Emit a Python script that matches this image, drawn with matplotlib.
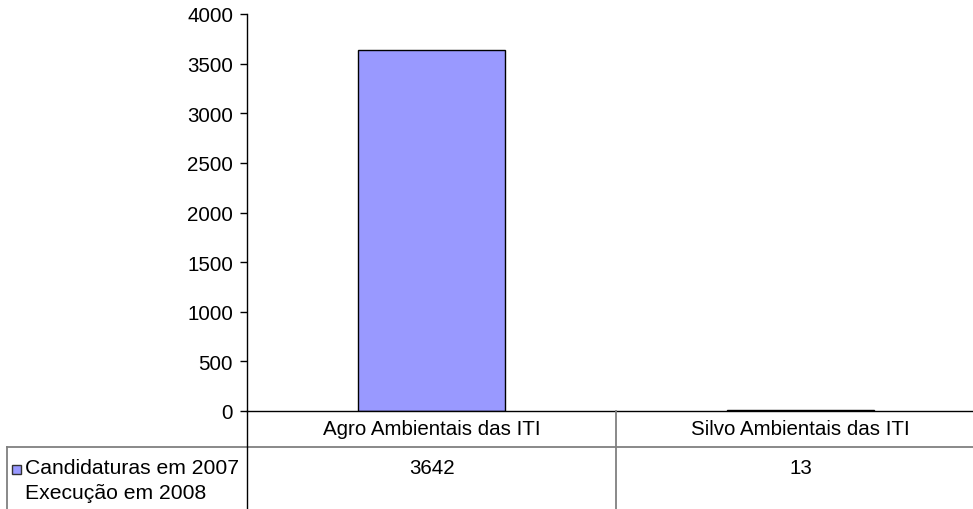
import matplotlib
matplotlib.use("Agg")
import matplotlib.pyplot as plt
from matplotlib.lines import Line2D
from matplotlib.patches import Rectangle

categories = ["Agro Ambientais das ITI", "Silvo Ambientais das ITI"]
values = [3642, 13]
series_label = ["Candidaturas em 2007", "Execução em 2008"]
yticks = [0, 500, 1000, 1500, 2000, 2500, 3000, 3500, 4000]

plt.rcParams['font.family'] = ['Liberation Sans', 'DejaVu Sans']
FS = 14.8

W, H = 973, 510
fig = plt.figure(figsize=(W / 100, H / 100), dpi=100)

# pixel geometry of the plot area (right edge runs past the figure)
x0, x1 = 247, 985
ytop, ybot = 15, 412
ax = fig.add_axes([x0 / W, 1 - ybot / H, (x1 - x0) / W, (ybot - ytop) / H])

xs = [i + 0.5 for i in range(len(categories))]
ax.bar(xs, values, width=0.4, color="#9999FF", edgecolor="black", linewidth=1)
ax.set_xlim(0, len(categories))
ax.set_ylim(0, 4000)
ax.set_yticks(yticks)
ax.set_yticklabels([str(t) for t in yticks], fontsize=FS)
ax.tick_params(axis="y", direction="out", length=5, width=1, pad=5)
ax.set_xticks([])
for s in ["top", "right"]:
    ax.spines[s].set_visible(False)
ax.spines["left"].set_linewidth(1)
ax.spines["bottom"].set_linewidth(1)

# data table under the chart
grey = "#808080"
row_line = 448
left_edge = 7
col_w = (x1 - x0) / len(categories)

def fx(px):
    return px / W

def fy(py):
    return 1 - py / H

fig.add_artist(Line2D([fx(left_edge), fx(x1)], [fy(row_line), fy(row_line)], color=grey, lw=1.3))
fig.add_artist(Line2D([fx(left_edge), fx(left_edge)], [fy(row_line), fy(H + 5)], color=grey, lw=1.3))
fig.add_artist(Line2D([fx(x0), fx(x0)], [fy(ybot), fy(H + 5)], color="black", lw=1))
for i in range(1, len(categories)):
    xc = x0 + i * col_w
    fig.add_artist(Line2D([fx(xc), fx(xc)], [fy(ybot), fy(H + 5)], color=grey, lw=1.3))

for i, (cat, val) in enumerate(zip(categories, values)):
    xc = x0 + (i + 0.5) * col_w
    fig.text(fx(xc), fy(430), cat, ha="center", va="center", fontsize=FS)
    fig.text(fx(xc), fy(469), str(val), ha="center", va="center", fontsize=FS)

# legend key and series name in the row header
fig.add_artist(Rectangle((fx(12), fy(475)), 9 / W, 9 / H, facecolor="#9999FF",
                         edgecolor="#333333", lw=1))
fig.text(fx(25), fy(469), series_label[0], ha="left", va="center", fontsize=15.2)
fig.text(fx(25), fy(494), series_label[1], ha="left", va="center", fontsize=15.2)

fig.savefig("out.png", dpi=100)
